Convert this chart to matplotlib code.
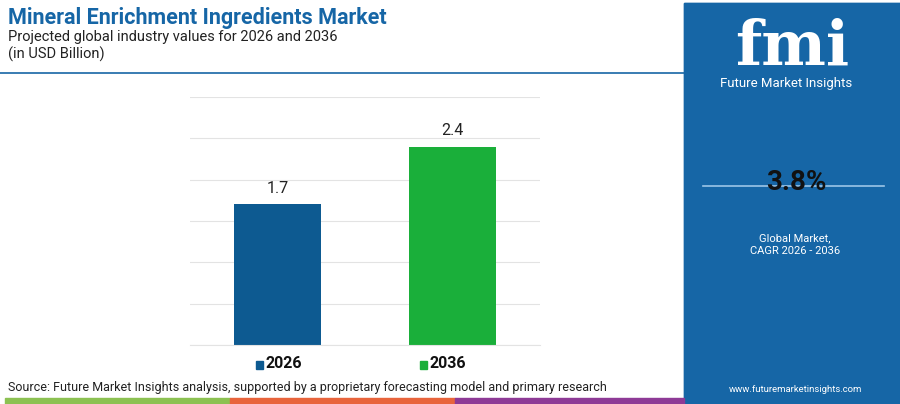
import matplotlib
matplotlib.use("Agg")
import matplotlib.pyplot as plt
from matplotlib.patches import Rectangle

years = ["2026", "2036"]
values = [1.7, 2.4]
colors = ["#0d5a91", "#1aaf3a"]
cagr = "3.8%"

W, H = 900, 404
fig = plt.figure(figsize=(W/100, H/100), dpi=100)
fig.patch.set_facecolor("white")

def fx(x): return x / W
def fy(y): return 1 - y / H

# right panel
fig.add_artist(Rectangle((fx(684), fy(404)), fx(216), 1 - fy(404) - (1 - fy(3)) + 0, transform=fig.transFigure, color="#1666a6", zorder=0))
fig.add_artist(Rectangle((fx(684), fy(404)), fx(216), fy(3) - fy(404), transform=fig.transFigure, color="#1666a6", zorder=0))
# bottom strip
for x0, x1, c in [(3, 171, "#8cc152"), (171, 340, "#e8643c"), (340, 512, "#8e3a96")]:
    pass
for x0, x1, c in [(5, 230, "#8cc152"), (230, 455, "#e8643c"), (455, 684, "#8e3a96")]:
    fig.add_artist(Rectangle((fx(x0), fy(404)), fx(x1 - x0), fy(398) - fy(404), transform=fig.transFigure, color=c))
# header line
fig.add_artist(plt.Line2D([0, fx(684)], [fy(73), fy(73)], transform=fig.transFigure, color="#1666a6", lw=1.2))

fig.text(fx(8), fy(18), "Mineral Enrichment Ingredients Market", fontsize=15.5, fontweight="bold", color="#1666a6", va="center", family="Roboto")
fig.text(fx(8), fy(37), "Projected global industry values for 2026 and 2036", fontsize=10.5, color="#222222", va="center", family="Roboto")
fig.text(fx(8), fy(54), "(in USD Billion)", fontsize=10.5, color="#222222", va="center", family="Roboto")

ax = fig.add_axes([fx(190), fy(345), fx(540 - 190), fy(97) - fy(345)])
x = [0, 1]
ax.bar(x, values, color=colors, width=0.5)
ax.set_xlim(-0.5, 1.5)
ax.set_ylim(0, 3.0)
ax.set_yticks([0.5 * i for i in range(7)])
ax.yaxis.grid(True, color="#e3e3e3", lw=0.8)
ax.set_axisbelow(True)
ax.tick_params(left=False, bottom=False, labelleft=False, labelbottom=False)
for s in ["top", "right", "left"]:
    ax.spines[s].set_visible(False)
ax.spines["bottom"].set_color("#e3e3e3")
for xi, v in zip(x, values):
    ax.text(xi, v + 0.1, f"{v}", ha="center", va="bottom", fontsize=11.5, color="#222222", family="Roboto")

# legend
for lx, yr, c in [(256, years[0], colors[0]), (420, years[1], colors[1])]:
    fig.add_artist(Rectangle((fx(lx), fy(369)), fx(7), fy(361) - fy(369), transform=fig.transFigure, color=c))
    fig.text(fx(lx + 10), fy(364), yr, fontsize=11.5, fontweight="bold", va="center", color="#111111", family="Roboto")

fig.text(fx(8), fy(388), "Source: Future Market Insights analysis, supported by a proprietary forecasting model and primary research",
         fontsize=9, color="#222222", va="center", family="Roboto")

# right panel text
fig.text(fx(792), fy(48), "fmi", fontsize=44, fontweight="bold", color="white", ha="center", va="center", family="DejaVu Serif")
fig.text(fx(786), fy(84), "Future Market Insights", fontsize=9.5, color="white", ha="center", va="center", family="Roboto")
fig.add_artist(plt.Line2D([fx(703), fx(884)], [fy(186), fy(186)], transform=fig.transFigure, color="#9cc6e8", lw=1.2))
fig.text(fx(796), fy(183), cagr, fontsize=20, fontweight="bold", color="#111111", ha="center", va="center", family="Roboto")
fig.text(fx(795), fy(238), "Global Market,", fontsize=8, color="white", ha="center", va="center", family="Roboto")
fig.text(fx(795), fy(251), "CAGR 2026 - 2036", fontsize=8, color="white", ha="center", va="center", family="Roboto")
fig.text(fx(795), fy(389), "www.futuremarketinsights.com", fontsize=6.8, color="white", ha="center", va="center", family="Roboto")

fig.savefig("out.png", dpi=100)
